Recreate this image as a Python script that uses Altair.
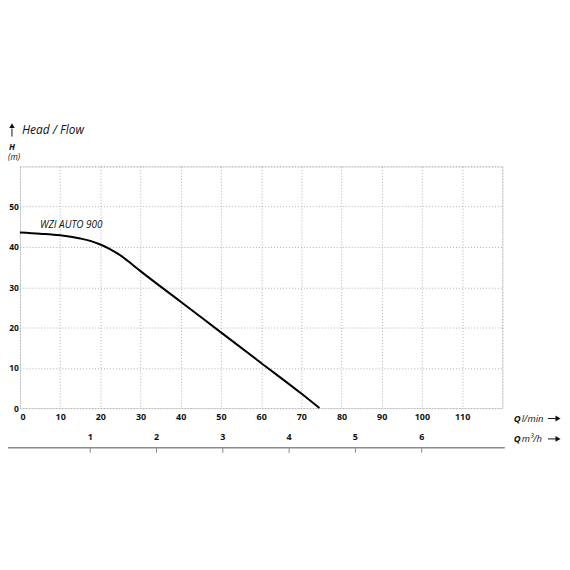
import altair as alt
import pandas as pd

# Pump curve (Q in l/min, H in m)
q_lmin = [0, 5, 10, 15, 17.5, 20, 22.5, 25, 27.5, 30, 40, 50, 60, 70, 74.5]
head_m = [43.6, 43.3, 42.9, 42.1, 41.5, 40.6, 39.4, 37.9, 36.0, 34.0, 26.4, 18.8, 11.2, 3.6, 0]

x_ticks = [0, 10, 20, 30, 40, 50, 60, 70, 80, 90, 100, 110, 120]
y_ticks = [0, 10, 20, 30, 40, 50, 60]
m3h_ticks = [1, 2, 3, 4, 5, 6]

model_label = "WZI AUTO 900"
model_q = 5
model_h = 45.5

FONT = "Open Sans"
PL = 12           # left padding (plot origin = page x 20)
W, H = 485, 243

curve_df = pd.DataFrame({"Q": q_lmin, "H": head_m})
xs = alt.Scale(domain=[0, 120], nice=False, zero=False)
ys = alt.Scale(domain=[0, 60], nice=False, zero=False)

x_axis = alt.Axis(values=x_ticks, grid=True, gridDash=[1, 2], gridColor="#b0b0b0",
                  gridWidth=1, domain=False, ticks=False, title=None,
                  labelExpr="datum.value >= 120 ? '' : datum.label",
                  labelFont=FONT, labelFontWeight="bold", labelFontSize=9,
                  labelColor="#111", labelPadding=4)
y_axis = alt.Axis(values=y_ticks, grid=True, gridDash=[1, 2], gridColor="#b0b0b0",
                  gridWidth=1, domain=False, ticks=False, title=None,
                  labelExpr="datum.value >= 60 ? '' : datum.label",
                  labelFont=FONT, labelFontWeight="bold", labelFontSize=8.5,
                  labelColor="#111", labelPadding=1.5)

curve = alt.Chart(curve_df).mark_line(color="#000", strokeWidth=2, interpolate="monotone").encode(
    x=alt.X("Q:Q", scale=xs, axis=x_axis),
    y=alt.Y("H:Q", scale=ys, axis=y_axis),
)

label = alt.Chart(pd.DataFrame({"Q": [model_q], "H": [model_h], "t": [model_label]})).mark_text(
    font=FONT, fontStyle="italic", fontSize=10, align="left", baseline="middle", color="#111"
).encode(x=alt.X("Q:Q", scale=xs), y=alt.Y("H:Q", scale=ys), text="t:N")

main = alt.layer(curve, label)

# secondary m3/h axis drawn on its own scale
# page x of value v = 24 + 66.66*v ; plot origin at page x 20
d0 = (20 - 24) / 66.66
d1 = (20 + W - 24) / 66.66
m3_df = pd.DataFrame({"v": m3h_ticks, "t": [str(v) for v in m3h_ticks]})
m3_scale = alt.Scale(domain=[d0, d1], nice=False, zero=False)
m3_line = alt.Chart(pd.DataFrame({"a": [0]})).mark_rule(color="#8a8a8a", strokeWidth=1.5).encode(
    x=alt.value(-PL), x2=alt.value(487.5), y=alt.value(283))
m3_ticks = alt.Chart(m3_df).mark_rule(color="#8a8a8a", strokeWidth=1).encode(
    x=alt.X("v:Q", scale=m3_scale, axis=None), y=alt.value(283), y2=alt.value(288))
m3_labels = alt.Chart(m3_df).mark_text(font=FONT, fontWeight="bold", fontSize=9,
                                        baseline="middle", color="#111").encode(
    x=alt.X("v:Q", scale=m3_scale, axis=None), y=alt.value(272.5), text="t:N")
second = alt.layer(m3_line, m3_ticks, m3_labels)

# annotations (pixel positions relative to plot origin)
one = pd.DataFrame({"a": [0]})
def txt(s, x, y, size=9, weight="normal", style="italic", align="left"):
    return alt.Chart(one).mark_text(text=s, font=FONT, fontSize=size, fontWeight=weight,
                                    fontStyle=style, align=align, baseline="middle",
                                    color="#111").encode(x=alt.value(x), y=alt.value(y))

head_title = txt("Head / Flow", 2, -37, size=12)
h_title = txt("H", -8, -19, size=8.5, weight="bold", align="center")
m_title = txt("(m)", -PL, -9, size=8.5, align="left")
up_arrow_line = alt.Chart(one).mark_rule(color="#111", strokeWidth=1).encode(
    x=alt.value(-8), y=alt.value(-38), y2=alt.value(-30))
up_arrow_head = alt.Chart(one).mark_point(shape="triangle-up", filled=True, size=30,
                                          color="#111", opacity=1).encode(
    x=alt.value(-8), y=alt.value(-41))

q1 = txt("Q", 496.5, 253.5, size=9.5, weight="bold")
q1u = txt("l/min", 504.5, 253.5, size=9.5)
q2 = txt("Q", 496.5, 274, size=9.5, weight="bold")
q2u = txt("m³/h", 504.5, 274, size=9.5)

def right_arrow(y):
    line = alt.Chart(one).mark_rule(color="#111", strokeWidth=1).encode(
        x=alt.value(531), x2=alt.value(541), y=alt.value(y))
    head = alt.Chart(one).mark_point(shape="triangle-right", filled=True, size=35,
                                     color="#111", opacity=1).encode(
        x=alt.value(541), y=alt.value(y))
    return alt.layer(line, head)

annot = alt.layer(head_title, h_title, m_title, up_arrow_line, up_arrow_head,
                  q1, q1u, q2, q2u, right_arrow(253.5), right_arrow(274))

chart = alt.layer(main, second, annot).resolve_scale(x="independent").properties(
    width=W, height=H,
    autosize=alt.AutoSizeParams(type="none"),
    padding={"left": PL, "top": 158, "right": 60, "bottom": 60},
).configure_view(stroke=None).configure(background="white")

chart.save("out.html", embed_options={"renderer": "svg", "actions": False})
